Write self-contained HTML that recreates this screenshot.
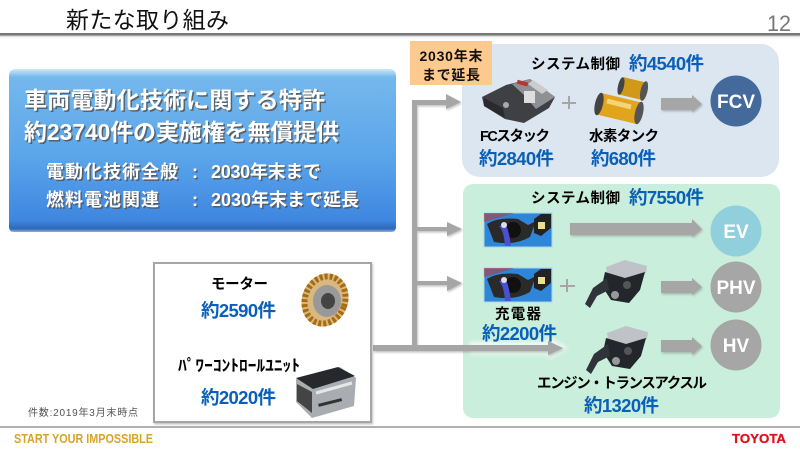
<!DOCTYPE html>
<html lang="ja"><head><meta charset="utf-8"><title>新たな取り組み</title>
<style>html,body{margin:0;padding:0;background:#fff}svg{display:block}
text{font-family:"Liberation Sans","Noto Sans CJK JP",sans-serif}
.b{font-weight:700}.k{fill:#000;font-weight:700;font-size:14.5px}.n{fill:#0a60b8;font-weight:700;font-size:18.5px}
.w{fill:#fff;font-weight:700}.s{fill:#fff;font-weight:700;font-size:18px}.c{fill:#fff;font-weight:700;font-size:19px;text-anchor:middle}
</style></head><body>
<svg width="800" height="450" viewBox="0 0 800 450" xmlns="http://www.w3.org/2000/svg">
<defs>
<linearGradient id="g" x1="0" y1="0" x2="0" y2="1"><stop offset="0" stop-color="#cfe8f8"/><stop offset=".05" stop-color="#74b8ec"/><stop offset=".55" stop-color="#5aa4ea"/><stop offset=".93" stop-color="#3f86e0"/><stop offset=".98" stop-color="#2f68b8"/><stop offset="1" stop-color="#8fb0dc"/></linearGradient>
<linearGradient id="h" x1="0" y1="0" x2="0" y2="1"><stop offset="0" stop-color="#777"/><stop offset=".5" stop-color="#777"/><stop offset=".5" stop-color="#ccc"/><stop offset="1" stop-color="#fff"/></linearGradient>
<filter id="sh" x="-10%" y="-30%" width="120%" height="170%"><feDropShadow dx="1" dy="1.5" stdDeviation="1" flood-color="#777" flood-opacity=".45"/></filter>
<filter id="bl" x="-10%" y="-80%" width="120%" height="260%"><feGaussianBlur stdDeviation="2.5"/></filter>
<g id="ch"><rect width="68" height="34" fill="#2f86d8" stroke="#a8d8e8"/><path d="M3 11Q14 4 34 6L44 12 52 8 46 24Q30 33 10 29Z" fill="#2a2a2a"/><path d="M0 0H30L14 5 0 9Z" fill="#b83a3a" opacity=".6"/><circle cx="29" cy="17" r="8" fill="#111"/><path d="M15 13Q20 18 21 33H27Q25 18 22 12Z" fill="#4a50d0"/><circle cx="20" cy="12" r="3" fill="#dde"/><path d="M50 6 57 1H67V15L57 23 50 20Z" fill="#222"/><rect x="54" y="9" width="7" height="7" fill="#e8e090"/></g>
<g id="en"><path d="M21 7 40 0 62 6 61 13 40 19 22 14Z" fill="#bfc3c7"/><path d="M20 12 40 18 60 12 55 30 44 43 26 40 17 26Z" fill="#23262a"/><path d="M22 18 8 28 0 44 5 48 12 36 24 30Z" fill="#30343a"/><circle cx="30" cy="35" r="4" fill="#999"/><circle cx="42" cy="25" r="4" fill="#555"/></g>
</defs>
<rect width="800" height="450" fill="#fff"/>
<text x="66" y="28" font-size="23" textLength="163" fill="#111">新たな取り組み</text>
<text x="767" y="31" font-size="22.5" fill="#777" textLength="24" lengthAdjust="spacingAndGlyphs">12</text>
<rect x="0" y="33" width="800" height="5" fill="url(#h)"/>

<path d="M9 76Q9 69 16 69H389Q396 69 396 76V227Q396 232 391 232H14Q9 232 9 227Z" fill="url(#g)"/>
<g fill="#555" opacity=".85" transform="translate(1.5 1.5)">
<text x="24" y="108" font-size="23" font-weight="700" textLength="301">車両電動化技術に関する特許</text>
<text x="24" y="140" font-size="23" font-weight="700" textLength="315">約23740件の実施権を無償提供</text>
<text x="46" y="178" font-size="18" font-weight="700" textLength="132">電動化技術全般</text>
<text x="46" y="206" font-size="18" font-weight="700" textLength="113">燃料電池関連</text>
<text x="192" y="178" font-size="18" font-weight="700">:</text><text x="192" y="206" font-size="18" font-weight="700">:</text>
<text x="211" y="178" font-size="18" font-weight="700" textLength="110">2030年末まで</text>
<text x="211" y="206" font-size="18" font-weight="700" textLength="148">2030年末まで延長</text>
</g>
<text class="w" x="24" y="108" font-size="23" textLength="301">車両電動化技術に関する特許</text>
<text class="w" x="24" y="140" font-size="23" textLength="315">約23740件の実施権を無償提供</text>
<text class="s" x="46" y="178" textLength="132">電動化技術全般</text>
<text class="s" x="46" y="206" textLength="113">燃料電池関連</text>
<text class="s" x="192" y="178">:</text><text class="s" x="192" y="206">:</text>
<text class="s" x="211" y="178" textLength="110">2030年末まで</text>
<text class="s" x="211" y="206" textLength="148">2030年末まで延長</text>

<rect x="462" y="44" width="317" height="133" rx="18" fill="#dce6f1"/>
<rect x="463" y="184" width="317" height="234" rx="10" fill="#c9eedb"/>
<rect x="410" y="41" width="82" height="44" fill="#fcc98e"/>
<text x="451" y="61" text-anchor="middle" font-size="14" class="b" fill="#111" textLength="63">2030年末</text>
<text x="451" y="80" text-anchor="middle" font-size="14" class="b" fill="#111" textLength="58">まで延長</text>

<path d="M470 342H548V337L568 348 548 359V354H470Z" fill="#fff" opacity=".8" filter="url(#bl)"/>
<g fill="#a6a6a6" filter="url(#sh)">
<rect x="412" y="101" width="5" height="247"/>
<path d="M412 100H446V94L461 102 446 109V105H412Z"/>
<path d="M414 227H447V222L462 229 447 236V231H414Z"/>
<path d="M414 281H447V276L462 283 447 291V285H414Z"/>
<path d="M373 345H548V341L563 348 548 355V351H373Z"/>
<path d="M661 98H692V95L702 104 692 112V110H661Z"/>
<path d="M570 223H692V219L702 229 692 237V235H570Z"/>
<path d="M661 281H692V278L702 287 692 295V293H661Z"/>
<path d="M661 340H692V337L702 346 692 355V352H661Z"/>
</g>
<g fill="#a6a6a6">
<rect x="562" y="102" width="14" height="2"/><rect x="568" y="96" width="2" height="13"/>
<rect x="560" y="285" width="15" height="2"/><rect x="566" y="279" width="2" height="13"/>
</g>

<text x="531" y="69" class="k" textLength="89">システム制御</text>
<text x="629" y="70" class="n" textLength="75">約4540件</text>
<text x="531" y="203" class="k" textLength="89">システム制御</text>
<text x="629" y="204" class="n" textLength="75">約7550件</text>
<text x="480" y="141" class="k" textLength="70">FCスタック</text>
<text x="589" y="141" class="k" textLength="70">水素タンク</text>
<text x="479" y="165" class="n" textLength="75">約2840件</text>
<text x="591" y="165" class="n" textLength="65">約680件</text>
<text x="495" y="319" class="k" textLength="46">充電器</text>
<text x="482" y="340" class="n" textLength="75">約2200件</text>
<text x="537" y="388" class="k" textLength="170">エンジン・トランスアクスル</text>
<text x="584" y="412" class="n" textLength="75">約1320件</text>

<circle cx="736" cy="101" r="25.5" fill="#44699b"/><text class="c" x="736" y="108">FCV</text>
<circle cx="736" cy="231" r="25.5" fill="#92cfdc"/><text class="c" x="736" y="238">EV</text>
<circle cx="736" cy="287" r="25.5" fill="#a6a6a6"/><text class="c" x="736" y="294">PHV</text>
<circle cx="736" cy="345" r="25.5" fill="#a6a6a6"/><text class="c" x="736" y="352">HV</text>

<!-- FC stack -->
<path d="M482 97 506 85 530 79 555 97 549 108 524 123 505 119 484 106Z" fill="#3e4044"/>
<path d="M512 84 530 79 555 97 536 109 524 95Z" fill="#8d9094"/>
<rect x="517" y="81" width="11" height="4" fill="#b33" transform="rotate(15 522 83)"/>
<rect x="524" y="91" width="11" height="12" fill="#ddd"/>
<path d="M533 80 548 90 542 94 528 84Z" fill="#ccc"/>
<circle cx="506" cy="105" r="3" fill="#aaa"/><path d="M484 98 503 108 505 118 484 106Z" fill="#2a2a2e"/>
<!-- tanks -->
<line x1="622" y1="86" x2="643" y2="91" stroke="#d09a18" stroke-width="18"/>
<ellipse cx="644" cy="91" rx="3.5" ry="10" fill="#555" transform="rotate(13 644 91)"/>
<ellipse cx="621" cy="86" rx="3" ry="9" fill="#444" transform="rotate(13 621 86)"/>
<line x1="600" y1="104" x2="638" y2="113" stroke="#e2a41c" stroke-width="22"/>
<path d="M607 101 631 107" stroke="#f4d478" stroke-width="5"/>
<ellipse cx="639" cy="113" rx="4" ry="11.5" fill="#555" transform="rotate(13 639 113)"/>
<ellipse cx="599" cy="104" rx="4" ry="11.5" fill="#444" transform="rotate(13 599 104)"/>

<use href="#ch" x="484" y="213"/>
<use href="#ch" x="484" y="268"/>
<use href="#en" x="585" y="260"/>
<use href="#en" x="586" y="326"/>

<rect x="154" y="263" width="217" height="159" fill="#fff" stroke="#a6a6a6" stroke-width="2" filter="url(#sh)"/>
<text x="211" y="289" class="k" textLength="57">モーター</text>
<text x="201" y="317" class="n" textLength="75">約2590件</text>
<text x="178" y="371" font-size="16" font-weight="700" fill="#000" textLength="122" lengthAdjust="spacingAndGlyphs">ﾊﾟﾜｰｺﾝﾄﾛｰﾙﾕﾆｯﾄ</text>
<text x="201" y="404" class="n" textLength="75">約2020件</text>
<!-- motor -->
<ellipse cx="325" cy="300" rx="23" ry="27" fill="#d8b880" transform="rotate(20 325 300)"/>
<ellipse cx="325" cy="300" rx="20" ry="24" fill="none" stroke="#a86c10" stroke-width="6" stroke-dasharray="3 2" transform="rotate(20 325 300)"/>
<ellipse cx="327" cy="301" rx="14" ry="16" fill="#999"/><ellipse cx="328" cy="301" rx="7" ry="8" fill="#444"/>
<!-- PCU -->
<path d="M296 379 340 367 356 378 354 406 312 418 296 402Z" fill="#a9adb1"/>
<path d="M296 378 338 367 355 376 313 389Z" fill="#26282c"/>
<path d="M297 384 312 392 312 413 297 401Z" fill="#444"/><rect x="318" y="401" width="24" height="3" fill="#333" transform="rotate(-14 330 402)"/>
<path d="M316 393 352 383" stroke="#e6e6e6" stroke-width="3"/>

<text x="28" y="416" font-size="10" fill="#555" textLength="110">件数:2019年3月末時点</text>
<rect x="0" y="426" width="800" height="2" fill="#b0b0b0"/>
<text x="14" y="443" font-size="12.5" font-weight="700" fill="#d8a328" textLength="139" lengthAdjust="spacingAndGlyphs">START YOUR IMPOSSIBLE</text>
<text x="732" y="443" font-size="13" font-weight="700" fill="#e0101c" stroke="#e0101c" stroke-width=".3" textLength="54" lengthAdjust="spacingAndGlyphs">TOYOTA</text>
</svg>
</body></html>
